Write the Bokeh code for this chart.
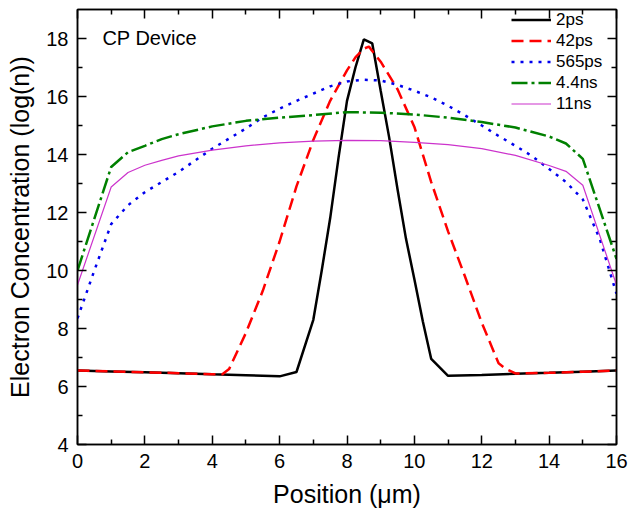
from bokeh.plotting import figure
from bokeh.models import LinearAxis, Range1d, FixedTicker, Label, CustomJSTickFormatter
from bokeh.embed import file_html
from bokeh.resources import INLINE

# ---- data ----
x_2ps = [0, 1, 2, 3, 4, 5, 6, 6.5, 7.0, 7.25, 7.5, 7.75, 8.0, 8.25, 8.5, 8.75,
         9.0, 9.25, 9.5, 9.75, 10.0, 10.25, 10.5, 11.0, 12, 13, 14, 15, 16]
y_2ps = [6.55, 6.52, 6.49, 6.46, 6.42, 6.39, 6.35, 6.5, 8.3, 10.0, 11.8, 13.9,
         15.85, 17.0, 17.97, 17.83, 16.2, 14.6, 12.8, 11.1, 9.7, 8.25, 6.95,
         6.37, 6.40, 6.44, 6.47, 6.51, 6.55]

x_42ps = [0, 1, 2, 3, 4, 4.3, 4.5, 5.0, 5.5, 6.0, 6.5, 7.0, 7.5, 8.0, 8.25, 8.5,
          8.65, 9.0, 9.5, 10.0, 10.5, 11.0, 11.5, 12.0, 12.5, 12.7, 13, 14, 15, 16]
y_42ps = [6.55, 6.52, 6.49, 6.46, 6.42, 6.42, 6.6, 7.85, 9.3, 11.0, 12.9, 14.5,
          15.85, 16.9, 17.35, 17.65, 17.72, 17.2, 16.25, 14.95, 13.05, 11.35,
          9.8, 8.2, 6.8, 6.62, 6.45, 6.47, 6.51, 6.55]

x_565ps = [0, 0.5, 1.0, 1.5, 2, 2.5, 3, 3.5, 4, 4.5, 5, 5.5, 6, 6.5, 7, 7.5, 8,
           8.5, 9, 9.5, 10, 10.5, 11, 11.5, 12, 12.5, 13, 13.5, 14, 14.5, 15,
           15.5, 16]
y_565ps = [8.35, 10.0, 11.6, 12.25, 12.7, 13.05, 13.4, 13.8, 14.2, 14.55, 14.9,
           15.28, 15.58, 15.85, 16.1, 16.35, 16.52, 16.58, 16.55, 16.4, 16.2,
           15.97, 15.68, 15.35, 15.0, 14.64, 14.3, 13.94, 13.5, 13.05, 12.45,
           11.1, 9.2]

x_44ns = [0, 1, 1.5, 2, 2.5, 3, 4, 5, 6, 7, 8, 9, 10, 11, 12, 13, 14, 14.5, 15, 16]
y_44ns = [10.0, 13.57, 14.08, 14.3, 14.53, 14.7, 14.97, 15.16, 15.27, 15.36,
          15.46, 15.44, 15.38, 15.27, 15.12, 14.93, 14.62, 14.38, 13.85, 10.4]

x_11ns = [0, 1, 1.5, 2, 2.5, 3, 4, 5, 6, 7, 8, 9, 10, 11, 12, 13, 14, 14.5, 15, 16]
y_11ns = [9.5, 12.88, 13.38, 13.63, 13.8, 13.95, 14.15, 14.3, 14.4, 14.46,
          14.49, 14.48, 14.42, 14.34, 14.2, 13.97, 13.62, 13.42, 12.94, 9.5]

x_ticks = [0, 2, 4, 6, 8, 10, 12, 14, 16]
y_ticks = [4, 6, 8, 10, 12, 14, 16, 18]

FONT = "Liberation Sans"

p = figure(width=629, height=512, output_backend="svg", toolbar_location=None,
           x_range=Range1d(0, 16), y_range=Range1d(4, 19),
           min_border_left=77, min_border_right=13, min_border_top=9,
           min_border_bottom=68, x_axis_label="Position (\u03bcm)",
           y_axis_label="Electron Concentration (log(n))")

p.grid.visible = False
p.outline_line_color = "black"
p.outline_line_width = 1.5
p.background_fill_color = "white"
p.border_fill_color = "white"

def style_axis(ax, ticks, labels=True):
    ax.ticker = FixedTicker(ticks=ticks,
                            minor_ticks=[t + 1 for t in ticks[:-1]])
    ax.major_tick_in = 9
    ax.major_tick_out = 0
    ax.minor_tick_in = 5
    ax.minor_tick_out = 0
    ax.axis_line_width = 1.5
    ax.major_tick_line_width = 1.5
    ax.minor_tick_line_width = 1.5
    ax.axis_line_color = "black"
    ax.major_tick_line_color = "black"
    ax.minor_tick_line_color = "black"
    if labels:
        ax.major_label_text_font = FONT
        ax.major_label_text_font_size = "20px"
        ax.major_label_text_color = "black"
        ax.major_label_standoff = 9
        ax.axis_label_text_font = FONT
        ax.axis_label_text_font_size = "25px"
        ax.axis_label_text_font_style = "normal"
        ax.axis_label_text_color = "black"
    else:
        ax.formatter = CustomJSTickFormatter(code="return ''")
        ax.major_label_standoff = 0
        ax.major_label_text_font_size = "1px"

style_axis(p.xaxis[0], x_ticks)
style_axis(p.yaxis[0], y_ticks)
p.xaxis[0].axis_label_standoff = 9
p.yaxis[0].axis_label_standoff = 9

top = LinearAxis()
right = LinearAxis()
style_axis(top, x_ticks, labels=False)
style_axis(right, y_ticks, labels=False)
p.add_layout(top, "above")
p.add_layout(right, "right")

p.line(x_2ps, y_2ps, color="black", line_width=2.5, legend_label="2ps")
p.line(x_42ps, y_42ps, color="#ff0000", line_width=2.5, line_dash="12 6",
       legend_label="42ps")
p.line(x_565ps, y_565ps, color="#0000ee", line_width=2.5, line_dash="3 6",
       legend_label="565ps")
p.line(x_44ns, y_44ns, color="#008000", line_width=2.5, line_dash="16 4 3 4",
       legend_label="4.4ns")
p.line(x_11ns, y_11ns, color="#cc33cc", line_width=1.2, legend_label="11ns")

lg = p.legend[0]
lg.location = "top_right"
lg.border_line_color = None
lg.background_fill_alpha = 0
lg.margin = 0
lg.padding = 5
lg.spacing = 0
lg.glyph_width = 40
lg.glyph_height = 21
lg.label_height = 21
lg.label_width = 60
lg.label_standoff = 5
lg.label_text_font = FONT
lg.label_text_font_size = "17px"
lg.label_text_color = "black"

p.add_layout(Label(x=0.74, y=18.39, text="CP Device", text_font=FONT,
                   text_font_size="20px", text_color="black",
                   text_baseline="top"))

open("out.html", "w").write(file_html(p, INLINE))
